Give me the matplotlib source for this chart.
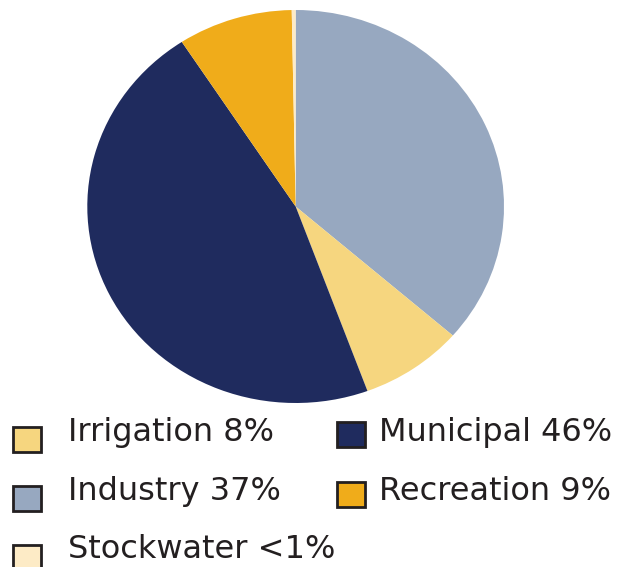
import matplotlib
matplotlib.use("Agg")
import matplotlib.pyplot as plt
from matplotlib.patches import Rectangle

# Data (pie order: clockwise from 12 o'clock)
categories = ["Industry", "Irrigation", "Municipal", "Recreation", "Stockwater"]
values = [36.4, 8.0, 46.4, 8.9, 0.3]
colors = ["#97A8C0", "#F6D67F", "#1F2B5E", "#F0AC1A", "#FDEBC6"]

# Legend entries
legend_labels = ["Irrigation 8%", "Industry 37%", "Stockwater <1%",
                 "Municipal 46%", "Recreation 9%"]
legend_colors = ["#F6D67F", "#97A8C0", "#FDEBC6", "#1F2B5E", "#F0AC1A"]

W, H = 629, 567
fig = plt.figure(figsize=(W / 100, H / 100), dpi=100)

# Pie axes (slightly elliptical as in reference)
left, right, top, bottom = 87.3, 504.0, 10.0, 403.0
ax = fig.add_axes([left / W, 1 - bottom / H, (right - left) / W, (bottom - top) / H])
ax.pie(values, colors=colors, startangle=90, counterclock=False,
       wedgeprops=dict(linewidth=0))
ax.set_aspect("auto")
ax.set_xlim(-1, 1)
ax.set_ylim(-1, 1)
ax.axis("off")

# Legend, drawn in pixel positions
text_color = "#231F20"
# (square x, square top y, text x, baseline y)
positions = [
    (13, 427, 68, 441),
    (13, 486, 68, 500),
    (13, 545, 68, 558),
    (337, 422, 379, 441),
    (337, 482, 379, 500),
]
sq_w, sq_h = 28, 25
for (sx, sy, tx, ty), lab, col in zip(positions, legend_labels, legend_colors):
    fig.add_artist(Rectangle((sx / W, 1 - (sy + sq_h) / H), sq_w / W, sq_h / H,
                             transform=fig.transFigure, facecolor=col,
                             edgecolor=text_color, linewidth=2.0))
    fig.text(tx / W, 1 - ty / H, lab, fontsize=23, color=text_color,
             ha="left", va="baseline", family="DejaVu Sans")

fig.savefig("out.png", dpi=100)
